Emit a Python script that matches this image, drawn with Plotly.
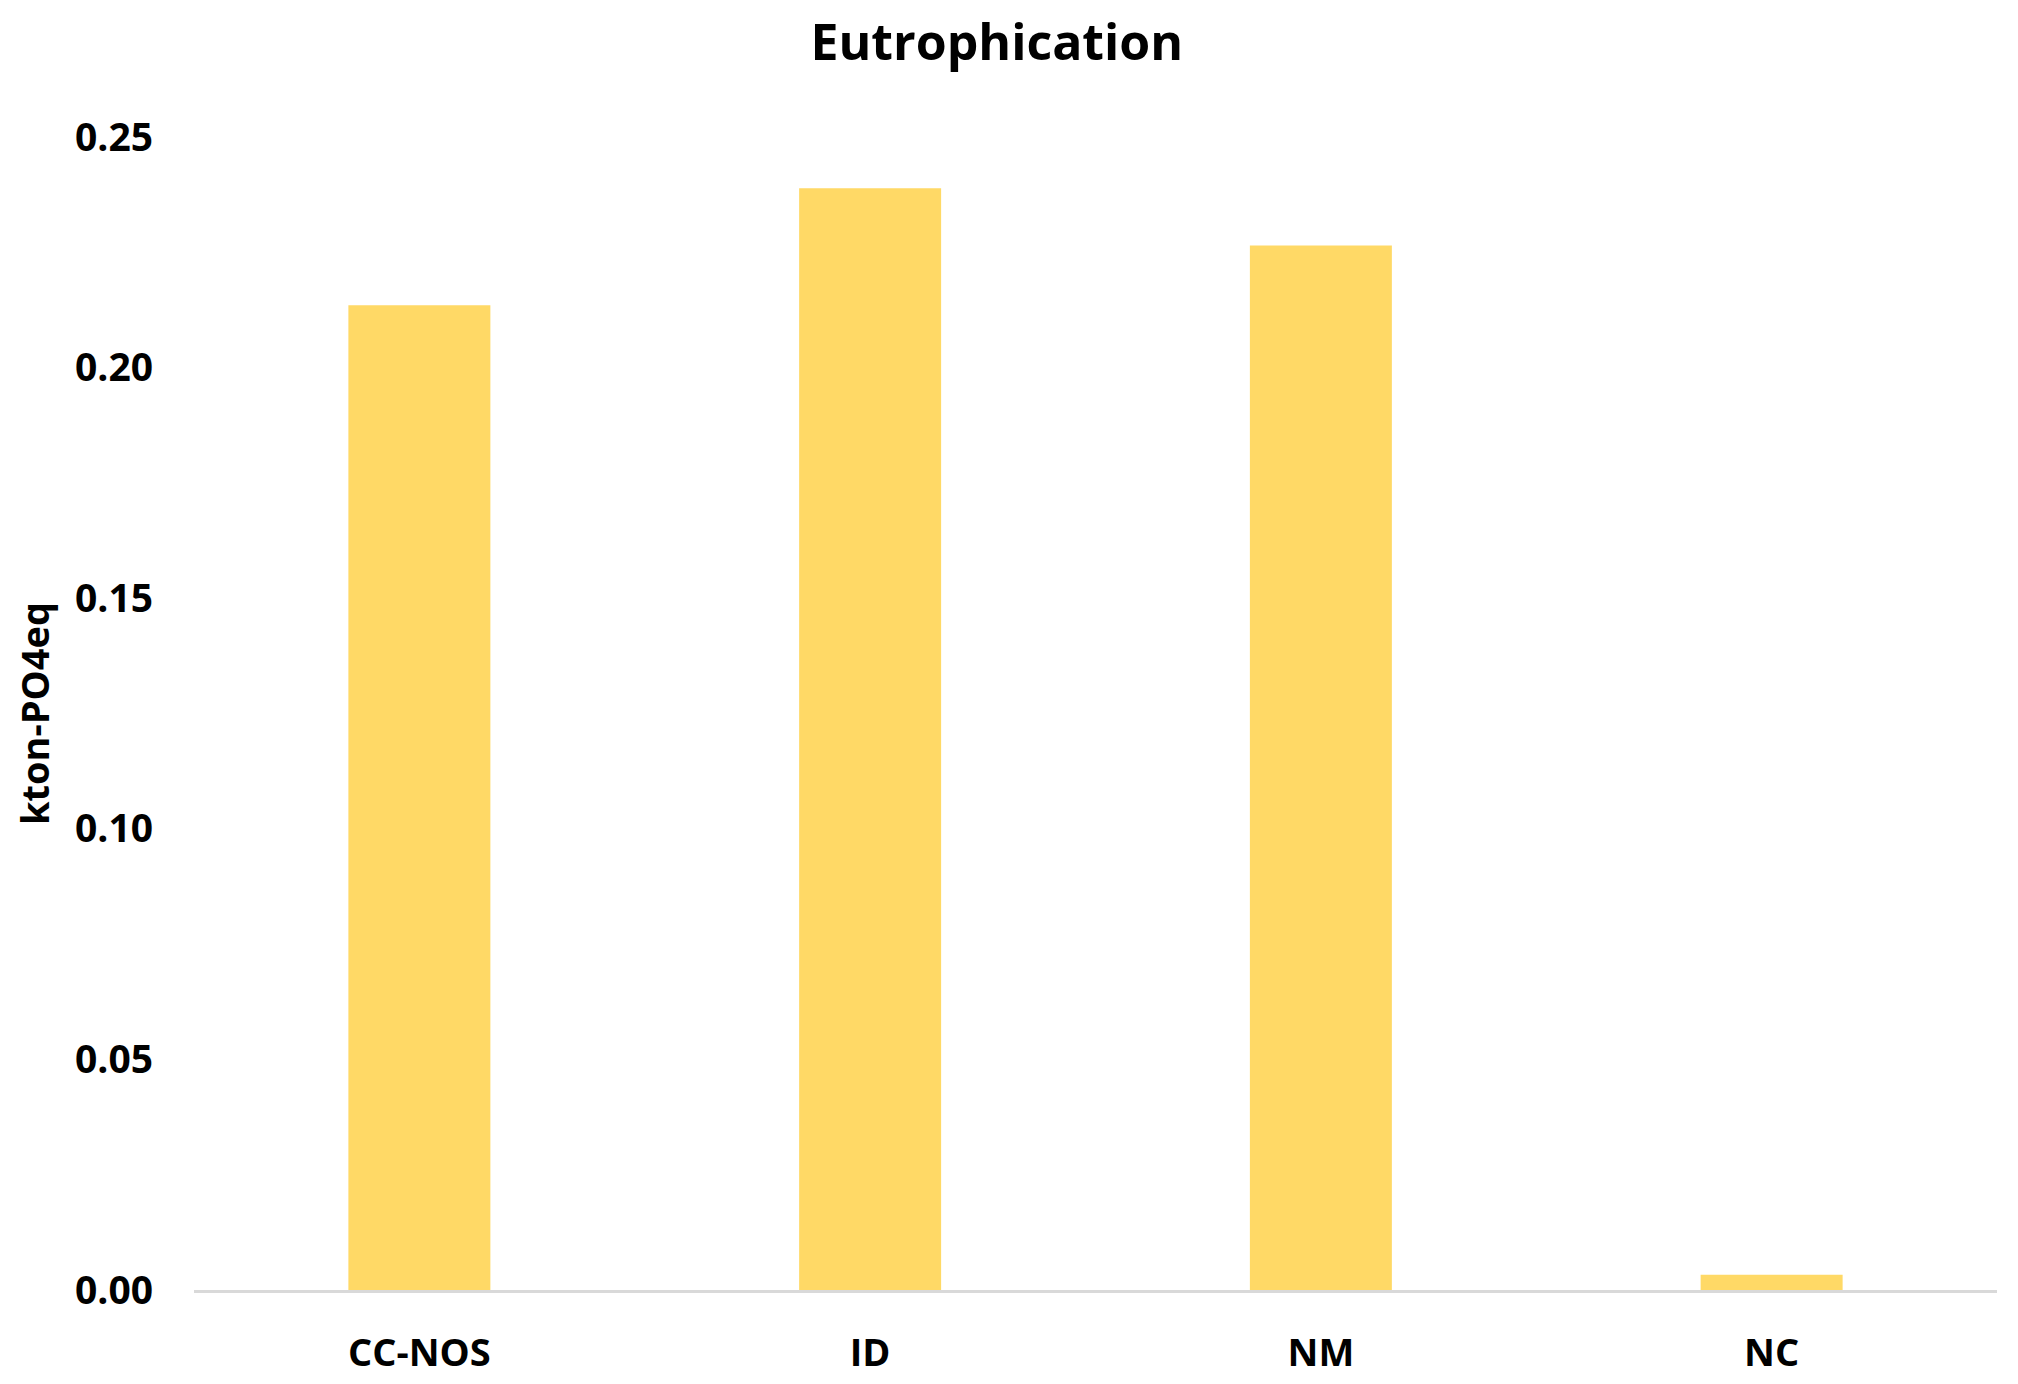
import plotly.graph_objects as go

categories = ['CC-NOS', 'ID', 'NM', 'NC']
values = [0.2135, 0.2389, 0.2265, 0.0033]
y_ticks = [0.00, 0.05, 0.10, 0.15, 0.20, 0.25]

fig = go.Figure()
fig.add_trace(go.Bar(
    x=categories,
    y=values,
    marker_color='#FFD966',
    marker_line_width=0,
    name='Eutrophication'
))

fig.update_layout(
    width=2018, height=1384,
    title={'text': 'Eutrophication', 'x': 0.490, 'xanchor': 'center',
           'y': 0.975, 'yanchor': 'middle',
           'font': {'size': 50, 'color': 'black', 'weight': 'bold'}},
    font_family='Open Sans',
    font_color='black',
    plot_bgcolor='white',
    paper_bgcolor='white',
    bargap=0.685,
    showlegend=False,
    margin=dict(l=186, r=29, t=129, b=102),
)
fig.update_xaxes(
    automargin=False,
    showline=True, linecolor='#D9D9D9', linewidth=3,
    showgrid=False, ticks='',
    tickfont=dict(size=38, weight='bold'),
    ticklabelstandoff=27,
)
fig.update_yaxes(
    automargin=False,
    range=[0, 0.25],
    tickvals=y_ticks,
    tickformat='.2f',
    showgrid=False, zeroline=False, showline=False, ticks='',
    tickfont=dict(size=39, weight='bold'),
    ticklabelstandoff=40,
    title=dict(text='kton-PO4eq', font=dict(size=38, weight='bold'), standoff=20),
)

fig.write_html('out.html')
